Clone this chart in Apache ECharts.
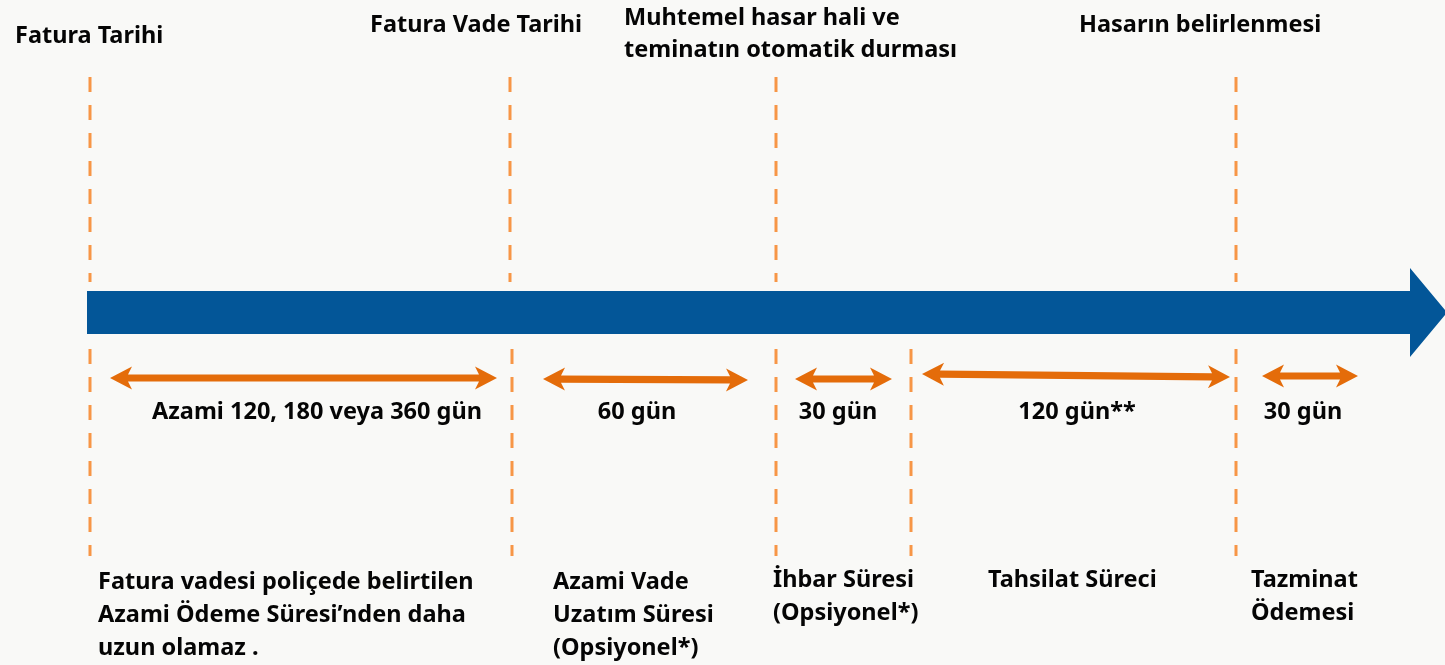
<!DOCTYPE html>
<html><head><meta charset="utf-8">
<script src="https://cdn.jsdelivr.net/npm/echarts@6/dist/echarts.min.js"></script>
<style>html,body{margin:0;padding:0;background:#f9f9f7}#c{width:1445px;height:665px}</style>
</head><body><div id="c"></div>
<script>
// ---- data ----
const milestoneNames = ['Fatura Tarihi', 'Fatura Vade Tarihi', 'Muhtemel hasar hali ve\nteminatın otomatik durması', 'Hasarın belirlenmesi'];
const milestoneAt = [90, 510, 776, 1236];           // timeline position of each milestone
const lowerMarkAt = [90, 512, 776, 911, 1236];      // timeline position of lower markers
const periodStart = [110, 543, 795, 922, 1262];
const periodEnd = [497, 748, 892, 1230, 1358];
const periodDays = ['Azami 120, 180 veya 360 gün', '60 gün', '30 gün', '120 gün**', '30 gün'];
const periodNames = ['Fatura vadesi poliçede belirtilen\nAzami Ödeme Süresi’nden daha\nuzun olamaz .', 'Azami Vade\nUzatım Süresi\n(Opsiyonel*)', 'İhbar Süresi\n(Opsiyonel*)', 'Tahsilat Süreci', 'Tazminat\nÖdemesi'];
const timeline = [87, 1447];

// ---- layout (positions on the hidden axes) ----
const FONT = '"Noto Sans", sans-serif';
const FS = 23.5;
const topLabelPos = [[15, 36], [370, 25], [624, 18], [1079, 25]];
const periodArrowY = [[378, 378], [379, 380], [379, 379], [374, 377], [376, 376]];
const dayLabelPos = [[317, 412], [637, 412], [838, 412], [1077, 412], [1303, 412]];
const namePos = [[98, 582], [553, 582], [773, 580], [988, 580], [1251, 580]];

const series = [];

// dashed milestone lines (upper)
milestoneAt.forEach((x) => {
  series.push({ type: 'line', data: [[x, 77], [x, 282]], showSymbol: false, silent: true,
    lineStyle: { color: '#f79646', width: 3, type: [15, 13] }, z: 1 });
});
lowerMarkAt.forEach((x) => {
  series.push({ type: 'line', data: [[x, 349], [x, 556]], showSymbol: false, silent: true,
    lineStyle: { color: '#f79646', width: 3, type: [15, 13] }, z: 1 });
});

// blue timeline arrow
series.push({
  type: 'custom', data: [timeline], silent: true, z: 3,
  renderItem: (params, api) => {
    const x0 = api.value(0), x1 = api.value(1);
    const headBase = x1 - 37;
    const pts = [[x0, 291], [headBase, 291], [headBase, 268], [x1, 312.5], [headBase, 357], [headBase, 334], [x0, 334]]
      .map(p => api.coord(p));
    return { type: 'polygon', shape: { points: pts }, style: { fill: '#035698' } };
  }
});

// orange double-headed arrows
series.push({
  type: 'custom', silent: true, z: 4,
  data: periodStart.map((s, i) => [s, periodEnd[i], periodArrowY[i][0], periodArrowY[i][1]]),
  renderItem: (params, api) => {
    const a = api.coord([api.value(0), api.value(2)]);
    const b = api.coord([api.value(1), api.value(3)]);
    const dx = b[0] - a[0], dy = b[1] - a[1];
    const len = Math.hypot(dx, dy);
    const ux = dx / len, uy = dy / len, nx = -uy, ny = ux;
    const L = 22, N = 18, H = 11.5, T = 3.6;
    const P = (base, along, perp) => [base[0] + ux * along + nx * perp, base[1] + uy * along + ny * perp];
    const pts = [
      a, P(a, L, -H), P(a, N, -T), P(b, -N, -T), P(b, -L, -H), b,
      P(b, -L, H), P(b, -N, T), P(a, N, T), P(a, L, H)
    ];
    return { type: 'polygon', shape: { points: pts }, style: { fill: '#e46c0a' } };
  }
});

// text labels
function textSeries(items, align) {
  return {
    type: 'custom', silent: true, z: 5,
    data: items.map(it => [it.x, it.y, it.text]),
    renderItem: (params, api) => {
      const it = items[params.dataIndex];
      const p = api.coord([it.x, it.y]);
      return {
        type: 'text', x: p[0], y: p[1] - (it.lh || 33) / 2,
        style: { text: it.text, fill: '#050505', fontFamily: FONT, fontWeight: 'bold', fontSize: FS,
          align: it.align || align, verticalAlign: 'top', lineHeight: it.lh || 33 }
      };
    }
  };
}
series.push(textSeries(milestoneNames.map((t, i) => ({ x: topLabelPos[i][0], y: topLabelPos[i][1], text: t, lh: 32 })), 'left'));
series.push(textSeries(periodDays.map((t, i) => ({ x: dayLabelPos[i][0], y: dayLabelPos[i][1], text: t })), 'center'));
series.push(textSeries(periodNames.map((t, i) => ({ x: namePos[i][0], y: namePos[i][1], text: t, lh: 33 })), 'left'));

const chart = echarts.init(document.getElementById('c'), null, { renderer: 'canvas' });
chart.setOption({
  backgroundColor: '#f9f9f7',
  animation: false,
  grid: { left: 0, right: 0, top: 0, bottom: 0 },
  xAxis: { type: 'value', min: 0, max: 1445, show: false },
  yAxis: { type: 'value', min: 0, max: 665, inverse: true, show: false },
  series
});
</script></body></html>
